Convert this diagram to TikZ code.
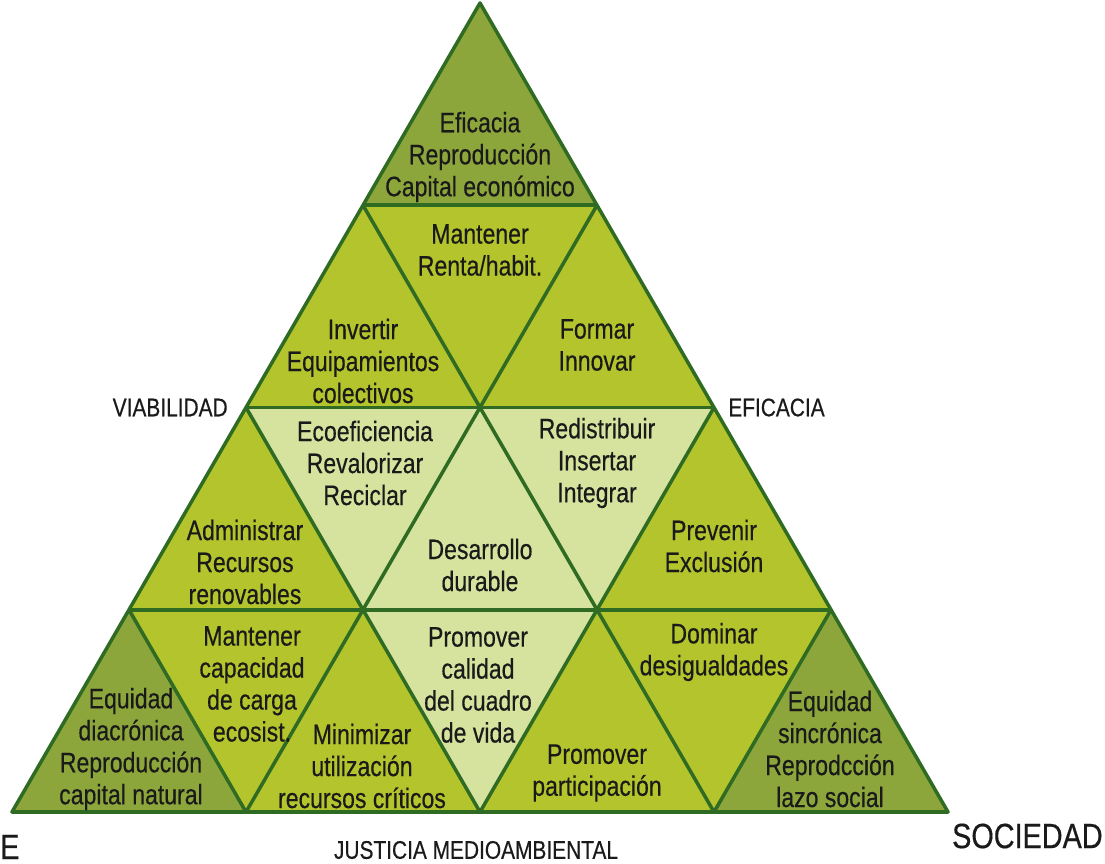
\documentclass[tikz,border=0pt]{standalone}
\usepackage{fontspec}
\setmainfont{Liberation Sans}[FakeStretch=0.82, FakeBold=0.4]
\usepackage{xcolor}
\usetikzlibrary{positioning}

\definecolor{darkolive}{HTML}{8CA63B}
\definecolor{midolive}{HTML}{B4C42C}
\definecolor{lightolive}{HTML}{D6E39E}
\definecolor{gridgreen}{HTML}{2F6B22}
\definecolor{txt}{HTML}{1A1A1A}

\begin{document}
\begin{tikzpicture}[
    x=0.02cm, y=-0.02cm,
    cell/.style={align=center, text=txt, inner sep=0pt, font=\fontsize{16}{18.2}\selectfont},
    lbl/.style={text=txt, inner sep=0pt, font=\fontsize{14.5}{17}\selectfont},
    biglbl/.style={text=txt, inner sep=0pt, font=\fontsize{20}{24}\selectfont},
    gridline/.style={draw=gridgreen, line width=2pt, line join=round}
]
\useasboundingbox (0,0) rectangle (1105,864);

% grid points, row by row
\coordinate (p00) at (480,3);
\coordinate (p10) at (363,205.25);
\coordinate (p11) at (597,205.25);
\coordinate (p20) at (246,407.5);
\coordinate (p21) at (480,407.5);
\coordinate (p22) at (714,407.5);
\coordinate (p30) at (129,609.75);
\coordinate (p31) at (363,609.75);
\coordinate (p32) at (597,609.75);
\coordinate (p33) at (831,609.75);
\coordinate (p40) at (12,812);
\coordinate (p41) at (246,812);
\coordinate (p42) at (480,812);
\coordinate (p43) at (714,812);
\coordinate (p44) at (948,812);

% fills
\fill[midolive] (p00) -- (p40) -- (p44) -- cycle;
\fill[darkolive] (p00) -- (p10) -- (p11) -- cycle;
\fill[darkolive] (p30) -- (p40) -- (p41) -- cycle;
\fill[darkolive] (p33) -- (p43) -- (p44) -- cycle;
\fill[lightolive] (p20) -- (p22) -- (p32) -- (p42) -- (p31) -- cycle;

% lines
\draw[gridline] (p10) -- (p11);
\draw[gridline] (p20) -- (p22);
\draw[gridline] (p30) -- (p33);
\draw[gridline] (p11) -- (p41);
\draw[gridline] (p22) -- (p42);
\draw[gridline] (p33) -- (p43);
\draw[gridline] (p10) -- (p43);
\draw[gridline] (p20) -- (p42);
\draw[gridline] (p30) -- (p41);
\draw[gridline] (p00) -- (p40) -- (p44) -- cycle;

% cell texts
\node[cell] (capeco) at (480,157) {Eficacia\\Reproducción\\Capital económico};
\node[cell] (renta) at (480,250) {Mantener\\Renta/habit.};
\node[cell] (invertir) at (363,361) {Invertir\\Equipamientos\\colectivos};
\node[cell] (formar) at (597,345) {Formar\\Innovar};
\node[cell] (ecoefic) at (365,463) {Ecoeficiencia\\Revalorizar\\Reciclar};
\node[cell] (redistr) at (597,463) {Redistribuir\\Insertar\\Integrar};
\node[cell] (durable) at (480,565) {Desarrollo\\durable};
\node[cell] (administrar) at (245,562) {Administrar\\Recursos\\renovables};
\node[cell] (prevenir) at (714,546) {Prevenir\\Exclusión};
\node[cell] (capacidad) at (252,684) {Mantener\\capacidad\\de carga\\ecosist.};
\node[cell] (diacronica) at (131,749) {Equidad\\diacrónica\\Reproducción\\capital natural};
\node[cell] (minimizar) at (362,766) {Minimizar\\utilización\\recursos críticos};
\node[cell] (calidad) at (478,685) {Promover\\calidad\\del cuadro\\de vida};
\node[cell] (participacion) at (597,773) {Promover\\participación};
\node[cell] (dominar) at (714,652) {Dominar\\desigualdades};
\node[cell] (sincronica) at (830,749) {Equidad\\sincrónica\\Reprodcción\\lazo social};

% outside labels
\node[lbl, left=0.36cm of p20] (viabilidad) {VIABILIDAD};
\node[lbl, right=0.28cm of p22] (eficacia) {EFICACIA};
\node[lbl] (justicia) at (476,850) {JUSTICIA MEDIOAMBIENTAL};
\node[biglbl, anchor=east] (sociedad) at (1103,836) {SOCIEDAD};
\node[biglbl, anchor=west] (ambiente) at (0,847) {E};

\end{tikzpicture}
\end{document}
